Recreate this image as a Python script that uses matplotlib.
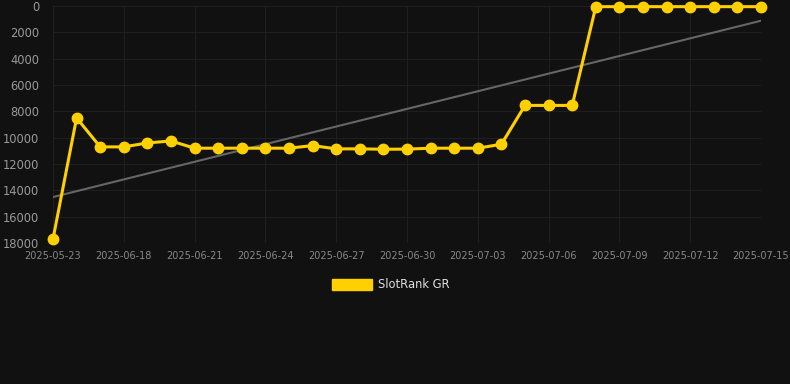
import numpy as np
import matplotlib
matplotlib.use("Agg")
import matplotlib.pyplot as plt
from matplotlib.patches import Rectangle

dates = ["2025-05-23"] + ["2025-06-%02d" % d for d in range(16, 31)] + \
        ["2025-07-%02d" % d for d in range(1, 16)]
ranks = [17700, 8500, 10700, 10700, 10400, 10250, 10800, 10800, 10800, 10800,
         10800, 10600, 10850, 10850, 10880, 10870, 10800, 10800, 10800, 10500,
         7550, 7550, 7550, 50, 50, 50, 50, 50, 50, 50, 50]
y_ticks = [0, 2000, 4000, 6000, 8000, 10000, 12000, 14000, 16000, 18000]

bg = "#111111"
fig = plt.figure(figsize=(7.9, 3.84), dpi=100, facecolor=bg)
ax = fig.add_axes([53 / 790, 1 - 243 / 384, (761 - 53) / 790, (243 - 6) / 384])
ax.set_facecolor(bg)

x = np.arange(len(ranks))
ax.plot(x, ranks, color="#FFD000", lw=2.2, marker="o", ms=7.5, zorder=3,
        clip_on=False)

# trend line
k, b = np.polyfit(x, ranks, 1)
ax.plot(x, k * x + b, color="#666666", lw=1.5, zorder=2)

ax.set_xlim(0, len(ranks) - 1)
ax.set_ylim(18000, 0)
ax.set_yticks(y_ticks)
ax.set_yticklabels([str(v) for v in y_ticks])
ax.set_xticks(x[::3])
ax.set_xticklabels(dates[::3])
ax.grid(True, color="#1f1f1f", lw=0.8)
for s in ax.spines.values():
    s.set_visible(False)
ax.tick_params(axis="y", colors="#999999", labelsize=8.3, length=0, pad=10)
ax.tick_params(axis="x", colors="#888888", labelsize=7, length=0, pad=6)

fig.patches.append(Rectangle((332 / 790, 1 - 290 / 384), 40 / 790, 11 / 384,
                             transform=fig.transFigure, color="#FFD000"))
fig.text(378 / 790, 1 - 285 / 384, "SlotRank GR", color="#dddddd",
         fontsize=8.3, va="center", ha="left")

fig.savefig("out.png", dpi=100, facecolor=bg)
